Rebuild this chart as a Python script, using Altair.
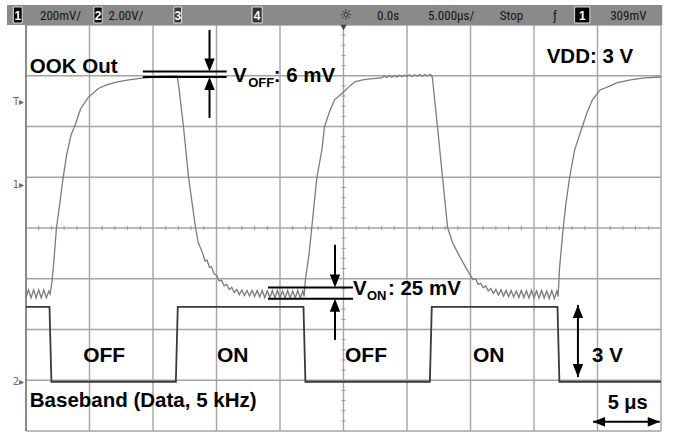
import altair as alt
import pandas as pd
import numpy as np

# ---------------- scope settings ----------------
T_MIN, T_MAX = -25.0, 25.0          # time, us (5 us/div, 10 div)
Y_TOP, Y_BOT = 630.0, -970.0        # channel-1 screen range, mV (200 mV/div, 8 div)
CH2_GROUND = -776.0                 # channel-2 ground marker, in ch1 mV units
CH2_MV_PER_V = 100.0                # 2 V/div shown on the 200 mV/div grid

grid_t = [-25, -20, -15, -10, -5, 0, 5, 10, 15, 20, 25]
grid_mv = [630, 430, 230, 30, -170, -370, -570, -770, -970]

# ---------------- channel 1: OOK output (us, mV) ----------------
ook_t = [
    -25.0, -24.8, -24.6, -24.4, -24.2, -24.0, -23.8, -23.6, -23.4, -23.2,
    -23.1, -22.95, -22.8, -22.6, -22.35, -22.1, -21.8, -21.45, -21.1, -20.7,
    -20.1, -19.3, -18.6, -17.8, -16.9, -16.0, -15.0, -14.0, -13.1,
    -12.95, -12.85, -12.6, -12.2, -11.9, -11.65, -11.45, -11.1,
    -10.9, -10.75, -10.55, -10.4, -10.2, -10.0, -9.8, -9.6, -9.4, -9.2,
    -9.0, -8.8, -8.6, -8.4, -8.2, -8.0, -7.8, -7.6, -7.4, -7.2,
    -7.0, -6.8, -6.6, -6.4, -6.2, -6.0, -5.8, -5.6, -5.4, -5.2,
    -5.0, -4.8, -4.6, -4.4, -4.2, -4.0, -3.8, -3.6, -3.4, -3.2, -3.1,
    -3.0, -2.7, -2.5, -2.1, -1.7, -1.5, -1.1, -0.7, 0.0, 0.5, 0.9, 1.5, 2.1,
    3.0, 3.2, 3.4, 3.6, 3.8, 4.0, 4.2, 4.4, 4.6, 4.8, 5.0, 5.2, 5.4, 5.6,
    5.8, 6.0, 6.2, 6.4, 6.6, 6.8, 6.9,
    7.0, 7.4, 7.8, 8.2, 8.6, 9.0, 9.6, 10.2,
    10.4, 10.6, 10.8, 11.0, 11.2, 11.4, 11.6, 11.8, 12.0, 12.2, 12.4, 12.6,
    12.8, 13.0, 13.2, 13.4, 13.6, 13.8, 14.0, 14.2, 14.4, 14.6, 14.8, 15.0,
    15.2, 15.4, 15.6, 15.8, 16.0, 16.2, 16.4, 16.6, 16.8, 16.9,
    17.0, 17.3, 17.5, 17.8, 18.2, 18.8, 19.2, 19.6, 20.2, 21.0, 21.5, 22.6,
    23.7, 25.0,
]
ook_mv = [
    -445, -414, -445, -414, -445, -414, -445, -414, -445, -418,
    -430, -382, -296, -169, -79, 20, 118, 197, 240, 300,
    345, 380, 395, 406, 414, 420, 425, 428, 430,
    380, 335, 229, 28, -79, -169, -225, -268,
    -300, -296, -325, -322, -350, -356, -378, -376, -398, -392,
    -412, -404, -424, -412, -432, -414, -436, -416, -438, -416,
    -440, -416, -442, -416, -444, -418, -444, -416, -446, -416,
    -446, -418, -446, -416, -446, -418, -446, -416, -446, -418, -440,
    -374, -268, -169, 28, 138, 229, 288, 335, 366, 390, 406, 414, 418,
    422, 428, 423, 430, 424, 431, 425, 432, 426, 433, 427, 434, 427, 434,
    428, 435, 428, 435, 429, 435, 433,
    422, 229, 28, -169, -229, -268, -323, -374,
    -370, -392, -388, -405, -398, -418, -408, -428, -412, -434, -414, -438,
    -416, -440, -416, -442, -418, -444, -416, -444, -418, -446, -416, -446,
    -418, -446, -416, -446, -418, -448, -416, -448, -418, -440,
    -335, -169, -79, 28, 138, 229, 288, 335, 374, 390, 402, 414,
    422, 425,
]

# ---------------- channel 2: baseband data (us, V) ----------------
bb_t = [-25.0, -23.15, -23.0, -13.2, -13.05, -3.15, -3.0, 6.8, 6.95, 16.85, 17.0, 25.0]
bb_v = [2.95, 2.95, 0.0, 0.0, 2.95, 2.95, 0.0, 0.0, 2.95, 2.95, 0.0, 0.0]

# ---------------- annotations ----------------
label_text = ["OOK Out", "VDD: 3 V", "V", "OFF", ": 6 mV", "V", "ON", ": 25 mV",
              "OFF", "ON", "OFF", "ON", "3 V", "Baseband (Data, 5 kHz)", "5 \u03bcs"]
label_t = [-24.7, 16.0, -8.7, -7.5, -5.5, 0.75, 1.85, 3.5,
           -20.5, -9.96, 0.12, 10.2, 19.57, -24.7, 20.8]
label_y = [441, 481, 406, 386, 406, -433, -453, -433,
           -697, -697, -697, -697, -697, -875, -883]
label_size = [20.5, 20.5, 20.5, 13, 20.5, 20.5, 13, 20.5,
              21, 21, 21, 21, 20.5, 20.5, 20]

seg_t = [-15.8, -15.8, -10.55, -10.55, -5.94, -5.94, -0.67, -0.67, 18.46, 19.65]
seg_t2 = [-9.2, -9.2, -10.55, -10.55, 0.75, 0.75, -0.67, -0.67, 18.46, 24.9]
seg_y = [447, 425, 611, 264, -404, -449, -236, -611, -473, -934]
seg_y2 = [447, 425, 460, 410, -404, -449, -390, -460, -757, -934]

head_down_t, head_down_y = [-10.55, -0.67, 18.46], [447, -404, -757]
head_up_t, head_up_y = [-10.55, -0.67, 18.46], [425, -449, -473]
head_left_t, head_left_y = [19.65], [-934]
head_right_t, head_right_y = [24.9], [-934]

# header (status bar)
hdr_text = ["200mV/", "2.00V/", "0.0s", "5.000\u03bcs/", "Stop", "\u0192", "309mV"]
hdr_t = [-23.9, -18.5, 2.64, 6.65, 12.3, 16.5, 21.0]
box_label = ["1", "2", "3", "4", "1"]
box_t = [-26.0, -19.65, -13.35, -7.2, 18.2]
box_t2 = [-25.3, -19.0, -12.75, -6.4, 19.4]
box_fill = ["#000000", "#000000", "#333333", "#333333", "#000000"]

marker_text = ["T\u25b8", "1\u25b8", "2\u25b8"]
marker_y = [327, 0, CH2_GROUND]

# ---------------- build ----------------
xs = alt.Scale(domain=[T_MIN, T_MAX], nice=False, zero=False)
ys = alt.Scale(domain=[Y_BOT, Y_TOP], nice=False, zero=False)


def X(f="t"):
    return alt.X(f"{f}:Q", scale=xs, axis=None)


def Y(f="y"):
    return alt.Y(f"{f}:Q", scale=ys, axis=None)


ook = pd.DataFrame({"t": ook_t, "y": ook_mv}).reset_index()
bb = pd.DataFrame({"t": bb_t, "y": [CH2_GROUND + v * CH2_MV_PER_V for v in bb_v]}).reset_index()

grid_v = alt.Chart(pd.DataFrame({"t": grid_t})).mark_rule(color="#a4a4a4", strokeWidth=1.4).encode(x=X())
grid_h = alt.Chart(pd.DataFrame({"y": grid_mv})).mark_rule(color="#a4a4a4", strokeWidth=1.4).encode(y=Y())
border = alt.Chart(pd.DataFrame({"t": [T_MIN]})).mark_rule(color="#8a8a8a", strokeWidth=2).encode(x=X())

# minor ticks on the centre lines (graticule)
mt = [v for v in np.arange(-24, 25, 1.0) if v % 5 != 0]
mty = [v for v in np.arange(-930, 630, 40.0) if (v + 170) % 200 != 0]
minor_x = pd.DataFrame({"t": mt, "t2": mt, "y": [-178] * len(mt), "y2": [-162] * len(mt)})
minor_y = pd.DataFrame({"t": [-0.16] * len(mty), "t2": [0.16] * len(mty), "y": mty, "y2": mty})
minor = alt.Chart(pd.concat([minor_x, minor_y])).mark_rule(color="#999999", strokeWidth=1).encode(
    x=X(), x2="t2:Q", y=Y(), y2="y2:Q")

ook_line = alt.Chart(ook).mark_line(color="#7c7c7c", strokeWidth=1.3).encode(
    x=X(), y=Y(), order="index:Q")
bb_line = alt.Chart(bb).mark_line(color="#3a3a3a", strokeWidth=1.8).encode(
    x=X(), y=Y(), order="index:Q")

segs = pd.DataFrame({"t": seg_t, "t2": seg_t2, "y": seg_y, "y2": seg_y2})
seg_layer = alt.Chart(segs).mark_rule(color="black", strokeWidth=2).encode(x=X(), x2="t2:Q", y=Y(), y2="y2:Q")


def heads(ts, yv, path, size):
    return alt.Chart(pd.DataFrame({"t": ts, "y": yv})).mark_point(
        shape=path, filled=True, color="black", opacity=1, size=size, strokeWidth=0
    ).encode(x=X(), y=Y())


h_down = heads(head_down_t, head_down_y, "M0,0L-0.4,-1L0.4,-1Z", 676)
h_up = heads(head_up_t, head_up_y, "M0,0L-0.4,1L0.4,1Z", 676)
h_left = heads(head_left_t, head_left_y, "M0,0L1,-0.4L1,0.4Z", 576)
h_right = heads(head_right_t, head_right_y, "M0,0L-1,-0.4L-1,0.4Z", 576)

labels = pd.DataFrame({"t": label_t, "y": label_y, "text": label_text, "size": label_size})
label_layer = alt.Chart(labels).mark_text(
    align="left", baseline="alphabetic", font="Liberation Sans, Arial, sans-serif",
    fontWeight="bold", color="black"
).encode(x=X(), y=Y(), text="text:N", size=alt.Size("size:Q", scale=None, legend=None))

# header bar
bar = alt.Chart(pd.DataFrame({"t": [-26.5], "t2": [25.1], "y": [630], "y2": [709]})).mark_rect(
    color="#8a8a8a").encode(x=X(), x2="t2:Q", y=Y(), y2="y2:Q")
boxes_df = pd.DataFrame({"t": box_t, "t2": box_t2, "y": [638] * 5, "y2": [701] * 5,
                         "fill": box_fill, "label": box_label,
                         "tc": [(a + b) / 2 for a, b in zip(box_t, box_t2)],
                         "yb": [651] * 5})
boxes = alt.Chart(boxes_df).mark_rect(stroke="#e0e0e0", strokeWidth=1).encode(
    x=X(), x2="t2:Q", y=Y(), y2="y2:Q", fill=alt.Fill("fill:N", scale=None))
box_txt = alt.Chart(boxes_df).mark_text(
    font="Liberation Sans, Arial", fontSize=12, fontWeight="bold", color="white", baseline="alphabetic"
).encode(x=X("tc"), y=Y("yb"), text="label:N")
hdr = pd.DataFrame({"t": hdr_t, "text": hdr_text, "y": [650] * len(hdr_t)})
hdr_txt = alt.Chart(hdr).mark_text(
    align="left", baseline="alphabetic",
    font="Liberation Sans Narrow, Roboto Condensed, DejaVu Sans Condensed, Liberation Sans, sans-serif",
    fontSize=13, color="#151515"
).encode(x=X(), y=Y(), text="text:N")
sun = alt.Chart(pd.DataFrame({"t": [0.2], "y": [650], "text": ["\u263c"]})).mark_text(
    baseline="alphabetic", fontSize=15, color="#222222", font="DejaVu Sans"
).encode(x=X(), y=Y(), text="text:N")
trig = alt.Chart(pd.DataFrame({"t": [0.0], "y": [620]})).mark_point(
    shape="triangle-down", filled=True, color="#444444", size=40, opacity=1).encode(x=X(), y=Y())

markers = alt.Chart(pd.DataFrame({"t": [-25.15] * 3, "y": marker_y, "text": marker_text})).mark_text(
    align="right", baseline="middle", fontSize=10, color="#6a6a6a", font="DejaVu Sans"
).encode(x=X(), y=Y(), text="text:N")

chart = alt.layer(
    grid_v, grid_h, minor, border, ook_line, bb_line, seg_layer,
    h_down, h_up, h_left, h_right, label_layer,
    bar, boxes, box_txt, hdr_txt, sun, trig, markers
).properties(
    width=635, height=406,
    autosize=alt.AutoSizeParams(type="none"),
    padding={"left": 26, "top": 25, "right": 12, "bottom": 4},
    background="white",
).configure_view(stroke=None)

chart.save("out.html", embed_options={"renderer": "svg", "actions": False})
